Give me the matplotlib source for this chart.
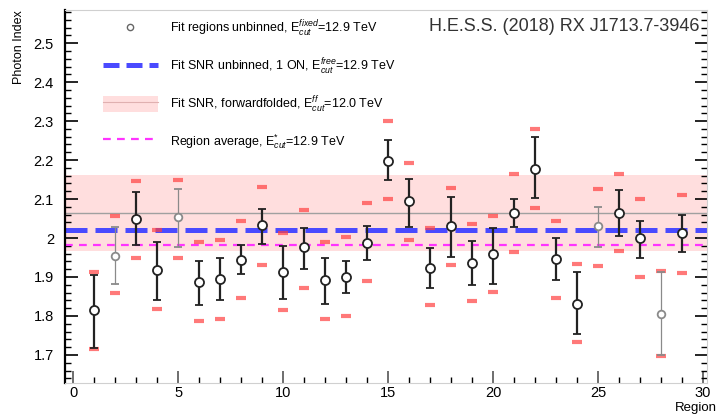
import matplotlib
matplotlib.use('Agg')
import matplotlib.pyplot as plt
from matplotlib.lines import Line2D
from matplotlib.patches import Patch
from matplotlib.ticker import MultipleLocator

plt.rcParams['font.family'] = ['Liberation Sans', 'DejaVu Sans']
plt.rcParams['mathtext.fontset'] = 'custom'
plt.rcParams['mathtext.rm'] = 'Liberation Sans'
plt.rcParams['mathtext.it'] = 'Liberation Sans:italic'

# photon index per region, stat. error bar ends, red marks = syst. range
region = list(range(1, 30))
index = [1.815, 1.955, 2.050, 1.917, 2.053, 1.887, 1.895, 1.944, 2.033, 1.912,
         1.978, 1.893, 1.901, 1.988, 2.197, 2.095, 1.924, 2.031, 1.937, 1.959,
         2.065, 2.178, 1.946, 1.832, 2.031, 2.065, 1.999, 1.805, 2.014]
stat_hi = [1.904, 2.029, 2.118, 1.989, 2.127, 1.941, 1.948, 1.982, 2.074, 1.980,
           2.025, 1.948, 1.940, 2.031, 2.252, 2.152, 1.974, 2.104, 1.992, 2.026,
           2.099, 2.260, 1.999, 1.914, 2.080, 2.124, 2.044, 1.914, 2.059]
stat_lo = [1.719, 1.882, 1.982, 1.840, 1.978, 1.827, 1.840, 1.908, 1.985, 1.844,
           1.921, 1.831, 1.860, 1.944, 2.148, 2.029, 1.873, 1.951, 1.880, 1.882,
           2.029, 2.103, 1.893, 1.753, 1.978, 2.005, 1.950, 1.699, 1.963]
sys_hi = [1.912, 2.056, 2.146, 2.020, 2.148, 1.991, 1.995, 2.044, 2.131, 2.014,
          2.071, 1.989, 2.002, 2.090, 2.301, 2.193, 2.025, 2.129, 2.037, 2.057,
          2.163, 2.280, 2.044, 1.934, 2.127, 2.165, 2.099, 1.915, 2.110]
sys_lo = [1.716, 1.859, 1.948, 1.819, 1.948, 1.787, 1.793, 1.846, 1.931, 1.815,
          1.873, 1.791, 1.801, 1.890, 2.099, 1.995, 1.827, 1.931, 1.838, 1.861,
          1.963, 2.077, 1.846, 1.734, 1.929, 1.967, 1.901, 1.698, 1.910]
weak = [2, 5, 25, 28]  # drawn with thin grey bars

snr_unbinned = 2.02
region_avg = 1.982
ff_index = 2.064
ff_err = 0.098

fig = plt.figure(figsize=(7.17, 4.17), dpi=100)
ax = fig.add_axes([0.0907, 0.0815, 0.8953, 0.8945])

ax.axhspan(ff_index - ff_err, ff_index + ff_err, color='#ffdede', lw=0, zorder=0)
ax.axhline(ff_index, color='#a0a0a0', lw=1.0, zorder=1)
ax.axhline(snr_unbinned, color='#4a4aff', lw=3.6, dashes=(4.4, 1.6), zorder=2)
ax.axhline(region_avg, color='#ff33ff', lw=1.6, dashes=(3.5, 2.8), zorder=2)

ax.plot(region, sys_hi, ls='none', marker='_', ms=7, mew=3, color='#ff4040', alpha=0.7, zorder=3)
ax.plot(region, sys_lo, ls='none', marker='_', ms=7, mew=3, color='#ff4040', alpha=0.7, zorder=3)

for r, v, hi, lo in zip(region, index, stat_hi, stat_lo):
    if r in weak:
        col, lw, ms = '#8a8a8a', 0.9, 5.5
    else:
        col, lw, ms = '#222222', 1.6, 6.5
    ax.errorbar([r], [v], yerr=[[v - lo], [hi - v]], fmt='o', color=col, ecolor=col,
                elinewidth=lw, capsize=3, capthick=lw, ms=ms, mfc='white',
                mec=col, mew=1.3, zorder=4)

ax.set_xlim(-0.4, 30.2)
ax.set_ylim(1.628, 2.585)

ax.xaxis.set_major_locator(MultipleLocator(5))
ax.xaxis.set_minor_locator(MultipleLocator(1))
ax.yaxis.set_major_locator(MultipleLocator(0.1))
ax.yaxis.set_minor_locator(MultipleLocator(0.02))
ax.tick_params(which='both', direction='in', right=True, top=False, labelsize=10.5)
ax.tick_params(which='major', length=9, width=1.2)
ax.tick_params(which='minor', length=4, width=1.0)
ax.tick_params(axis='y', pad=8)
ax.tick_params(axis='x', pad=2)
ax.set_yticks([1.7, 1.8, 1.9, 2.0, 2.1, 2.2, 2.3, 2.4, 2.5])
ax.set_yticklabels(['1.7', '1.8', '1.9', '2', '2.1', '2.2', '2.3', '2.4', '2.5'])

for s in ['top', 'right', 'bottom']:
    ax.spines[s].set_color('#d0d0d0')
ax.spines['left'].set_linewidth(1.6)
ax.tick_params(axis='x', colors='#555555', labelcolor='black')

ax.set_ylabel('Photon Index', fontsize=9, loc='top', labelpad=6)
ax.set_xlabel('Region', fontsize=9.5)
ax.xaxis.set_label_coords(1.016, -0.05)
ax.xaxis.label.set_horizontalalignment('right')

ax.text(0.988, 0.955, 'H.E.S.S. (2018) RX J1713.7-3946', transform=ax.transAxes,
        ha='right', va='center', fontsize=13, color='#333333')

handles = [
    Line2D([], [], ls='none', marker='o', ms=4.5, mfc='white', mec='#666666', mew=1.0),
    Line2D([], [], color='#4a4aff', lw=3.6, dashes=(3.2, 1.4)),
    (Patch(color='#ffdede', lw=0), Line2D([], [], color='#e0b0b0', lw=0.8)),
    Line2D([], [], color='#ff33ff', lw=1.6, dashes=(3.5, 2.8)),
]
labels = [
    r'Fit regions unbinned, E$_{cut}^{fixed}$=12.9 TeV',
    r'Fit SNR unbinned, 1 ON, E$_{cut}^{free}$=12.9 TeV',
    r'Fit SNR, forwardfolded, E$_{cut}^{ff}$=12.0 TeV',
    r'Region average, E$_{cut}^{*}$=12.9 TeV',
]
ax.legend(handles, labels, loc='upper left', bbox_to_anchor=(0.059, 0.975),
          frameon=False, fontsize=9, handlelength=4.4, handleheight=1.6,
          handletextpad=1.0, labelspacing=1.4, borderpad=0, borderaxespad=0)

fig.savefig('out.png', dpi=100)
